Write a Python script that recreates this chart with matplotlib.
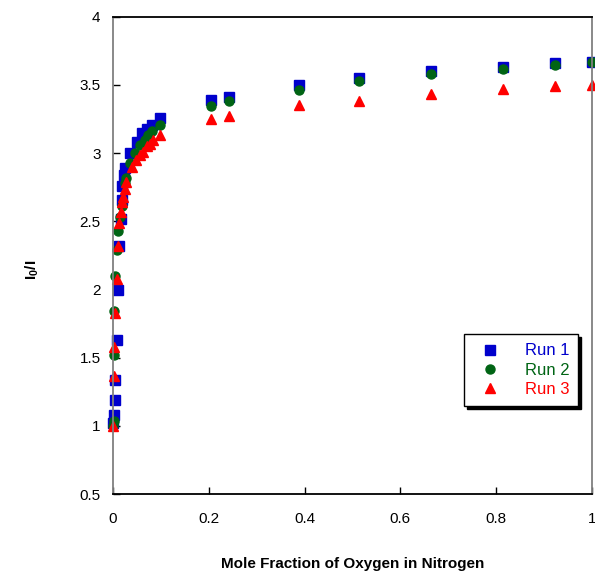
import numpy as np
import matplotlib.pyplot as plt

plt.rcParams['font.family'] = ['Liberation Sans', 'DejaVu Sans']

# Run 1
x1 = [0.0, 0.001, 0.004, 0.004, 0.008, 0.011, 0.013, 0.016, 0.018, 0.018, 0.022, 0.025,
      0.035, 0.049, 0.060, 0.070, 0.081, 0.098, 0.204, 0.242, 0.389, 0.514, 0.663, 0.815, 0.923, 1.0]
y1 = [1.02, 1.08, 1.19, 1.34, 1.63, 2.00, 2.32, 2.52, 2.66, 2.76, 2.84, 2.89,
      3.00, 3.08, 3.15, 3.18, 3.21, 3.26, 3.39, 3.415, 3.50, 3.55, 3.60, 3.635, 3.66, 3.67]
# Run 2
x2 = [0.0, 0.001, 0.001, 0.002, 0.004, 0.008, 0.011, 0.015, 0.018, 0.025, 0.028,
      0.035, 0.045, 0.056, 0.066, 0.074, 0.081, 0.098, 0.204, 0.242, 0.389, 0.514, 0.663, 0.815, 0.923, 1.0]
y2 = [1.00, 1.04, 1.52, 1.84, 2.10, 2.29, 2.43, 2.53, 2.61, 2.78, 2.82,
      2.93, 3.00, 3.06, 3.10, 3.13, 3.16, 3.21, 3.347, 3.38, 3.465, 3.53, 3.58, 3.62, 3.65, 3.67]
# Run 3
x3 = [0.0, 0.001, 0.002, 0.005, 0.008, 0.011, 0.013, 0.016, 0.018, 0.020, 0.025, 0.028,
      0.039, 0.047, 0.056, 0.063, 0.070, 0.077, 0.084, 0.098, 0.204, 0.242, 0.389, 0.514, 0.663, 0.815, 0.923, 1.0]
y3 = [1.00, 1.37, 1.58, 1.83, 2.08, 2.32, 2.49, 2.57, 2.64, 2.68, 2.74, 2.79,
      2.90, 2.95, 2.99, 3.01, 3.05, 3.07, 3.10, 3.13, 3.25, 3.27, 3.35, 3.385, 3.435, 3.47, 3.49, 3.50]

fig = plt.figure(figsize=(5.95, 5.78), dpi=100)
ax = fig.add_axes([0.190, 0.145, 0.805, 0.826])

ax.plot(x1, y1, 's', color='#0000cc', ms=6.5, mec='#0000cc', label='Run 1', clip_on=False)
ax.plot(x2, y2, 'o', color='#006414', ms=6.5, mec='#006414', label='Run 2', clip_on=False)
ax.plot(x3, y3, '^', color='#ff0000', ms=6.5, mec='#ff0000', label='Run 3', clip_on=False)

ax.set_xlim(0, 1)
ax.set_ylim(0.5, 4)
ax.set_xticks(np.arange(0, 1.01, 0.2))
ax.set_xticklabels(['0', '0.2', '0.4', '0.6', '0.8', '1'])
ax.set_yticks(np.arange(0.5, 4.01, 0.5))
ax.set_yticklabels(['0.5', '1', '1.5', '2', '2.5', '3', '3.5', '4'])
ax.tick_params(direction='in', length=5, width=1, labelsize=11, pad=9, color='black')
ax.tick_params(axis='x', pad=13)

ax.spines['top'].set_color('black')
ax.spines['bottom'].set_color('black')
ax.spines['left'].set_color('#808080')
ax.spines['right'].set_color('#808080')
for s in ax.spines.values():
    s.set_linewidth(1.3)

ax.set_xlabel('Mole Fraction of Oxygen in Nitrogen', fontsize=11, fontweight='bold', labelpad=22)
ax.set_ylabel('I$_\\mathregular{0}$/I', fontsize=11, fontweight='bold')
ax.yaxis.set_label_coords(-0.15, 0.47)

leg = ax.legend(loc='center', bbox_to_anchor=(0.852, 0.26), frameon=True, fancybox=False,
                shadow={'color': 'black', 'alpha': 1}, edgecolor='black', fontsize=12,
                handletextpad=1.1, borderpad=0.55, labelspacing=0.25, handlelength=2.0,
                borderaxespad=0)
leg.get_frame().set_linewidth(1)
for t, c in zip(leg.get_texts(), ['#0000cc', '#006414', '#ff0000']):
    t.set_color(c)

plt.savefig('out.png', dpi=100)
